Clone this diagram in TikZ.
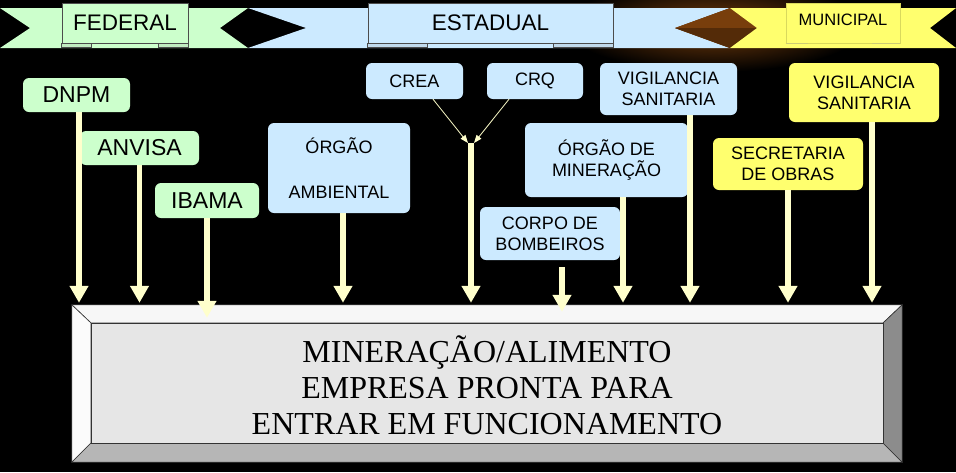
\documentclass[tikz,border=0pt]{standalone}
\usepackage{fontspec}
\setmainfont{Liberation Serif}
\setsansfont{Liberation Sans}
\usetikzlibrary{arrows.meta,calc}
\definecolor{gfill}{RGB}{204,255,204}
\definecolor{bfill}{RGB}{204,234,255}
\definecolor{yfill}{RGB}{255,255,110}
\definecolor{cream}{RGB}{255,255,204}
\definecolor{brownish}{RGB}{120,62,12}
\definecolor{facegray}{RGB}{230,230,230}
\begin{document}
\begin{tikzpicture}[x=1pt,y=-1pt,
  lbl/.style={font=\sffamily\fontsize{18}{21}\selectfont, align=center, rounded corners=6pt, inner sep=2pt, text=black},
  gnode/.style={lbl, fill=gfill, font=\sffamily\fontsize{23}{27}\selectfont},
  bnode/.style={lbl, fill=bfill},
  ynode/.style={lbl, fill=yfill},
  bigarrow/.style={draw=cream, line width=5.5pt, -{Triangle[width=18pt,length=17pt]}},
  thinarrow/.style={draw=cream, line width=0.8pt, -{Triangle[width=6pt,length=8pt]}},
  banner/.style={draw=gray!60!black, line width=0.6pt, font=\sffamily\fontsize{22.5}{26}\selectfont, inner sep=0pt},
  tab/.style={draw=gray!60!black, line width=0.6pt},
  bevel/.style={draw=gray!40!black, line width=0.6pt},
]
\useasboundingbox (0,0) rectangle (956,472);
\fill[black] (0,0) rectangle (956,472);
% glow
\shade[inner color=brownish, outer color=black] (715,26) ellipse (150pt and 46pt);
% ribbons
\fill[gfill] (0,8) -- (248,8) -- (220,28) -- (248,48) -- (0,48) -- (30,28) -- cycle;
\fill[bfill] (248,8) -- (730,8) -- (675,28) -- (730,48) -- (248,48) -- (306,28) -- cycle;
\fill[brownish] (675,28) -- (730,8) -- (757,28) -- (730,48) -- cycle;
\fill[brownish!70!black] (675,28) -- (757,28) -- (730,48) -- cycle;
\fill[yfill] (730,8) -- (956,8) -- (930,28) -- (956,48) -- (730,48) -- (757,28) -- cycle;

% banners
\node[banner, fill=gfill, minimum width=126pt, minimum height=40pt] (fed) at (125,23) {FEDERAL};
\draw[tab, fill=gfill!85!gray] (fed.south west) rectangle ++(30,4);
\draw[tab, fill=gfill!85!gray] ([xshift=-30pt]fed.south east) rectangle ++(30,4);
\node[banner, fill=bfill, minimum width=245pt, minimum height=40pt] (est) at (490.5,23) {ESTADUAL};
\draw[tab, fill=bfill!85!gray] (est.south west) rectangle ++(60,4);
\draw[tab, fill=bfill!85!gray] ([xshift=-60pt]est.south east) rectangle ++(60,4);
\node[banner, draw=yfill!85!black, fill=yfill, minimum width=114pt, minimum height=40pt, font=\sffamily\fontsize{16.5}{20}\selectfont, text depth=0pt] (mun) at (843,23) {\raisebox{6pt}{MUNICIPAL}};
\draw[draw=yfill!60!gray, line width=0.8pt] (mun.south west) -- ++(22,0);
\draw[draw=yfill!60!gray, line width=0.8pt] ([xshift=-28pt]mun.south east) -- ++(28,0);

% nodes
\node[gnode, minimum width=107pt, minimum height=34pt] (dnpm) at (76.5,95) {DNPM};
\node[gnode, minimum width=119pt, minimum height=34pt] (anvisa) at (139.5,148) {ANVISA};
\node[gnode, minimum width=104pt, minimum height=35pt] (ibama) at (207,200.5) {IBAMA};
\node[bnode, minimum width=142pt, minimum height=90pt] (oamb) at (339,168) {ÓRGÃO\\[24pt]AMBIENTAL};
\node[bnode, minimum width=97pt, minimum height=36pt] (crea) at (414.5,81) {CREA};
\node[bnode, minimum width=96pt, minimum height=36pt] (crq) at (535,81) {CRQ};
\node[bnode, minimum width=163pt, minimum height=74pt] (omin) at (606.5,160) {ÓRGÃO DE\\MINERAÇÃO};
\node[bnode, minimum width=140pt, minimum height=53pt] (bomb) at (550,233.5) {CORPO DE\\BOMBEIROS};
\node[bnode, minimum width=137pt, minimum height=52pt] (vigb) at (668.5,89) {VIGILANCIA\\SANITARIA};
\node[ynode, minimum width=150pt, minimum height=59pt] (vigy) at (864,92.5) {VIGILANCIA\\SANITARIA};
\node[ynode, minimum width=150pt, minimum height=52pt] (sec) at (788,164) {SECRETARIA\\DE OBRAS};

% main box
\node[minimum width=830pt, minimum height=157pt, inner sep=0pt] (outer) at (487,383.5) {};
\node[minimum width=792pt, minimum height=120pt, inner sep=0pt] (face) at (487,383) {};
\draw[bevel, fill=white!94!gray] (outer.north west) -- (outer.north east) -- (face.north east) -- (face.north west) -- cycle;
\draw[bevel, fill=white!97!gray] (outer.north west) -- (face.north west) -- (face.south west) -- (outer.south west) -- cycle;
\draw[bevel, fill={rgb,255:red,182;green,182;blue,182}] (outer.south west) -- (face.south west) -- (face.south east) -- (outer.south east) -- cycle;
\draw[bevel, fill={rgb,255:red,140;green,140;blue,140}] (outer.north east) -- (face.north east) -- (face.south east) -- (outer.south east) -- cycle;
\draw[bevel, fill=facegray] (face.north west) rectangle (face.south east);
\node[font=\fontsize{32}{36}\selectfont, align=center, text=black] (txt) at (487,385) {MINERAÇÃO/ALIMENTO\\EMPRESA PRONTA PARA\\ENTRAR EM FUNCIONAMENTO};

% arrows
\coordinate (join) at (471,143);
\draw[bigarrow] ([xshift=2.5pt]dnpm.south) -- ([xshift=2.5pt,yshift=2pt]dnpm.south |- outer.north);
\draw[bigarrow] (anvisa.south) -- ([yshift=2pt]anvisa.south |- outer.north);
\draw[bigarrow] (ibama.south) -- ([yshift=-13pt]ibama.south |- outer.north);
\draw[bigarrow] ([xshift=4pt]oamb.south) -- ([xshift=4pt,yshift=2pt]oamb.south |- outer.north);
\draw[bigarrow] (join) -- ([yshift=2pt]join |- outer.north);
\draw[bigarrow] ([xshift=12pt,yshift=-7pt]bomb.south) -- ([xshift=12pt,yshift=-7pt]bomb.south |- outer.north);
\draw[bigarrow] ([xshift=16.5pt]omin.south) -- ([xshift=16.5pt,yshift=2pt]omin.south |- outer.north);
\draw[bigarrow] ([xshift=21.5pt]vigb.south) -- ([xshift=21.5pt,yshift=2pt]vigb.south |- outer.north);
\draw[bigarrow] (sec.south) -- ([yshift=2pt]sec.south |- outer.north);
\draw[bigarrow] ([xshift=8pt]vigy.south) -- ([xshift=8pt,yshift=2pt]vigy.south |- outer.north);
\draw[thinarrow] ([xshift=18.5pt]crea.south) -- ([xshift=-3pt]join);
\draw[thinarrow] ([xshift=-26pt]crq.south) -- ([xshift=3pt]join);
\end{tikzpicture}
\end{document}
